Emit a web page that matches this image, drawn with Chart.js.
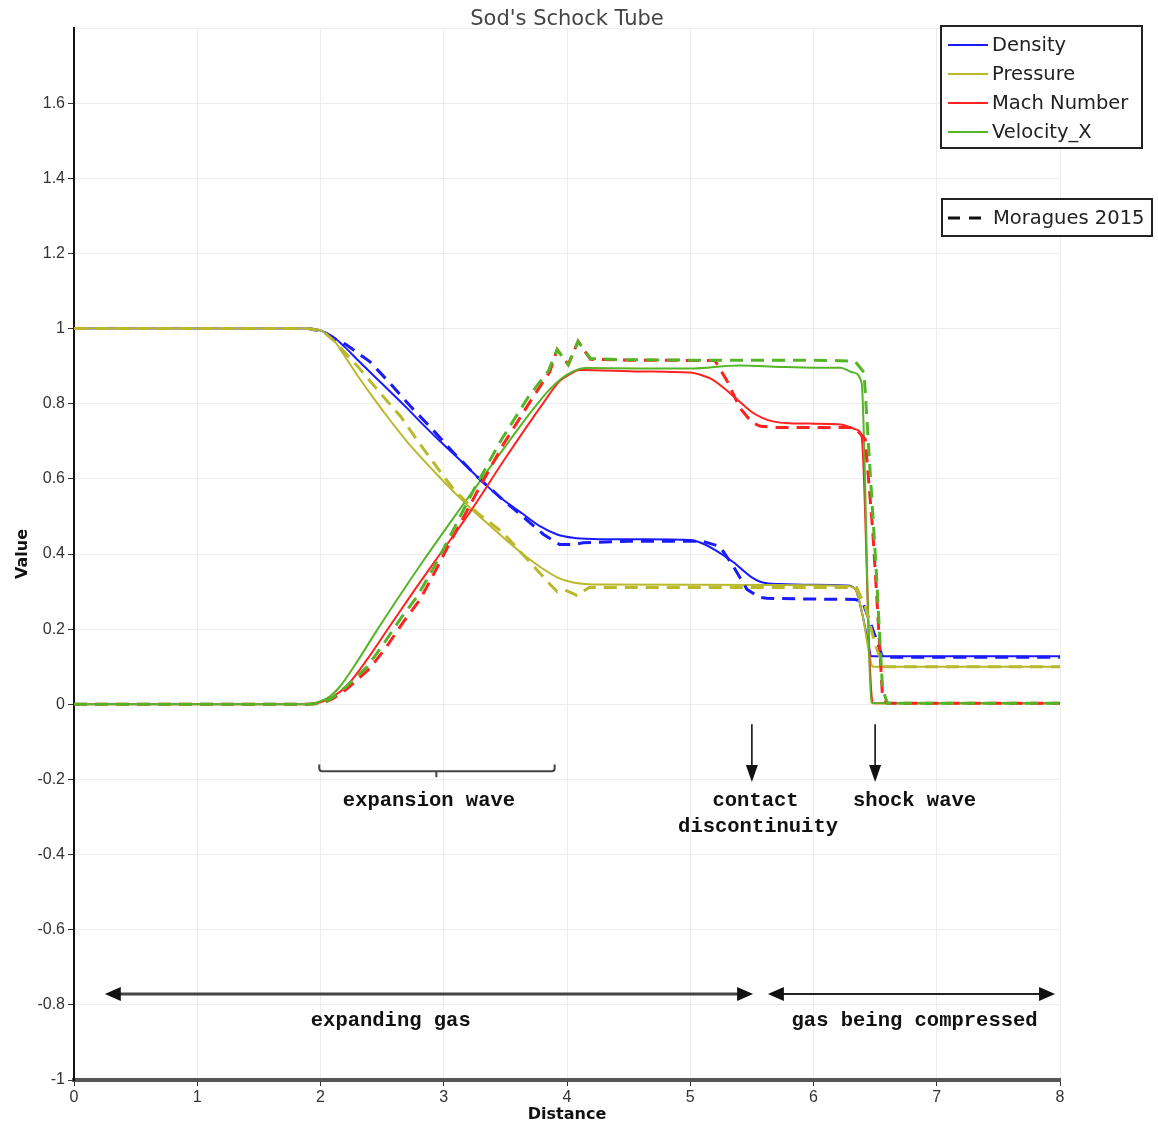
<!DOCTYPE html>
<html>
<head>
<meta charset="utf-8">
<title>Sod's Schock Tube</title>
<script src="https://cdn.jsdelivr.net/npm/chart.js@4.4.1/dist/chart.umd.min.js"></script>
<style>
  html, body { margin: 0; padding: 0; background: #ffffff; }
  #wrap { width: 1158px; height: 1126px; }
</style>
</head>
<body>
<div id="wrap"><canvas id="chart" width="1158" height="1126"></canvas></div>
<script>
// Sod shock tube profiles: present run (solid) and Moragues 2015 reference (dashed)

// --- present run ---
const densityX  = [0, 1.9, 2.0, 2.1, 2.2, 2.3, 2.43, 2.56, 2.7, 2.83, 2.97, 3.11, 3.22, 3.32, 3.48, 3.64, 3.78, 3.92, 4.05, 4.2, 4.6, 5.0, 5.1, 5.22, 5.35, 5.49, 5.59, 5.73, 6.0, 6.27, 6.34, 6.4, 6.44, 6.47, 6.6, 8];
const densityY  = [1, 1, 0.995, 0.979, 0.95, 0.917, 0.875, 0.834, 0.789, 0.745, 0.70, 0.657, 0.622, 0.59, 0.545, 0.507, 0.474, 0.452, 0.443, 0.44, 0.439, 0.437, 0.428, 0.407, 0.378, 0.34, 0.324, 0.32, 0.318, 0.316, 0.306, 0.234, 0.17, 0.128, 0.128, 0.128];

const pressureX = [0, 1.9, 2.0, 2.1, 2.2, 2.3, 2.43, 2.56, 2.7, 2.83, 2.97, 3.11, 3.25, 3.38, 3.51, 3.64, 3.78, 3.92, 4.05, 4.2, 5.0, 6.0, 6.27, 6.34, 6.4, 6.46, 6.48, 8];
const pressureY = [1, 1, 0.995, 0.972, 0.925, 0.875, 0.815, 0.758, 0.70, 0.652, 0.603, 0.556, 0.512, 0.474, 0.436, 0.40, 0.366, 0.338, 0.324, 0.319, 0.318, 0.317, 0.315, 0.306, 0.234, 0.12, 0.1, 0.1];

const machX     = [0, 1.9, 2.0, 2.1, 2.21, 2.38, 2.56, 2.75, 2.94, 3.21, 3.51, 3.81, 3.94, 4.02, 4.1, 4.6, 5.0, 5.1, 5.18, 5.26, 5.35, 5.42, 5.49, 5.58, 5.67, 5.8, 6.0, 6.22, 6.35, 6.39, 6.46, 6.48, 8];
const machY     = [0, 0, 0.005, 0.02, 0.048, 0.12, 0.207, 0.298, 0.386, 0.51, 0.66, 0.803, 0.86, 0.878, 0.89, 0.886, 0.883, 0.875, 0.864, 0.845, 0.82, 0.80, 0.78, 0.763, 0.753, 0.748, 0.747, 0.745, 0.731, 0.713, 0.085, 0.003, 0.003];

const velocityX = [0, 1.9, 2.0, 2.08, 2.16, 2.3, 2.46, 2.65, 2.83, 3.11, 3.43, 3.7, 3.85, 3.95, 4.05, 4.15, 4.6, 5.0, 5.4, 5.73, 6.0, 6.22, 6.32, 6.39, 6.47, 6.5, 8];
const velocityY = [0, 0, 0.008, 0.022, 0.048, 0.115, 0.198, 0.293, 0.38, 0.51, 0.655, 0.775, 0.835, 0.866, 0.886, 0.895, 0.894, 0.894, 0.902, 0.898, 0.896, 0.896, 0.883, 0.856, 0.005, 0.003, 0.003];

// --- Moragues 2015 ---
const refDensityX  = [0, 1.9, 2.02, 2.1, 2.21, 2.4, 2.56, 2.73, 2.91, 3.07, 3.27, 3.46, 3.64, 3.81, 3.94, 4.05, 4.13, 4.5, 5.1, 5.24, 5.35, 5.46, 5.56, 5.62, 6.0, 6.34, 6.4, 6.46, 6.51, 6.56, 6.6, 8];
const refDensityY  = [1, 1, 0.992, 0.975, 0.957, 0.912, 0.856, 0.793, 0.731, 0.673, 0.606, 0.55, 0.50, 0.452, 0.425, 0.425, 0.43, 0.434, 0.434, 0.42, 0.367, 0.306, 0.285, 0.282, 0.28, 0.279, 0.27, 0.218, 0.173, 0.125, 0.125, 0.125];

const refPressureX = [0, 1.9, 2.02, 2.1, 2.3, 2.48, 2.65, 2.78, 2.94, 3.08, 3.27, 3.48, 3.7, 3.86, 3.92, 3.98, 4.08, 4.18, 5.0, 6.0, 6.35, 6.42, 6.5, 6.57, 8];
const refPressureY = [1, 1, 0.993, 0.97, 0.90, 0.83, 0.766, 0.705, 0.633, 0.572, 0.51, 0.457, 0.378, 0.32, 0.30, 0.305, 0.29, 0.311, 0.311, 0.311, 0.311, 0.26, 0.16, 0.1, 0.1];

const refMachX     = [0, 1.9, 2.02, 2.1, 2.21, 2.4, 2.54, 2.67, 2.81, 2.94, 3.05, 3.27, 3.48, 3.7, 3.86, 3.92, 4.01, 4.09, 4.19, 4.5, 5.2, 5.3, 5.4, 5.5, 5.57, 5.7, 6.0, 6.33, 6.38, 6.42, 6.48, 6.52, 6.56, 6.6, 8];
const refMachY     = [0, 0, 0.003, 0.015, 0.04, 0.095, 0.155, 0.218, 0.28, 0.36, 0.43, 0.565, 0.69, 0.805, 0.885, 0.944, 0.904, 0.966, 0.918, 0.916, 0.915, 0.86, 0.79, 0.75, 0.74, 0.737, 0.737, 0.737, 0.72, 0.705, 0.465, 0.25, 0.02, 0.003, 0.003];

const refVelocityX = [0, 1.9, 2.02, 2.1, 2.2, 2.38, 2.52, 2.65, 2.79, 2.92, 3.04, 3.25, 3.46, 3.68, 3.85, 3.92, 4.01, 4.09, 4.19, 4.5, 5.0, 6.0, 6.27, 6.34, 6.41, 6.46, 6.51, 6.56, 6.6, 8];
const refVelocityY = [0, 0, 0.003, 0.018, 0.045, 0.10, 0.165, 0.228, 0.29, 0.365, 0.44, 0.575, 0.70, 0.815, 0.888, 0.944, 0.904, 0.966, 0.92, 0.917, 0.916, 0.916, 0.914, 0.912, 0.883, 0.617, 0.351, 0.04, 0.003, 0.003];

const seriesNames = ['Density', 'Pressure', 'Mach Number', 'Velocity_X'];
const referenceName = 'Moragues 2015';
const chartTitle = "Sod's Schock Tube";

const yTickValues = [-1, -0.8, -0.6, -0.4, -0.2, 0, 0.2, 0.4, 0.6, 0.8, 1, 1.2, 1.4, 1.6];

const COLORS = {
  density:  '#1a1aff',
  pressure: '#b9b92b',
  mach:     '#ff2222',
  velocity: '#55b527'
};

function points(xs, ys) {
  return xs.map((x, i) => ({ x: x, y: ys[i] }));
}

function solid(label, xs, ys, color, order) {
  return {
    label: label, data: points(xs, ys), borderColor: color, backgroundColor: color,
    borderWidth: 2, pointRadius: 0, showLine: true, fill: false,
    cubicInterpolationMode: 'monotone', order: order
  };
}

function dashed(label, xs, ys, color, order) {
  return {
    label: label, data: points(xs, ys), borderColor: color, backgroundColor: color,
    borderWidth: 3, borderDash: [13, 8], pointRadius: 0, showLine: true, fill: false,
    tension: 0, order: order
  };
}

const datasets = [
  solid(seriesNames[0], densityX, densityY, COLORS.density, 8),
  solid(seriesNames[1], pressureX, pressureY, COLORS.pressure, 7),
  solid(seriesNames[2], machX, machY, COLORS.mach, 6),
  solid(seriesNames[3], velocityX, velocityY, COLORS.velocity, 5),
  dashed(seriesNames[0] + ' ' + referenceName, refDensityX, refDensityY, COLORS.density, 4),
  dashed(seriesNames[1] + ' ' + referenceName, refPressureX, refPressureY, COLORS.pressure, 3),
  dashed(seriesNames[2] + ' ' + referenceName, refMachX, refMachY, COLORS.mach, 2),
  dashed(seriesNames[3] + ' ' + referenceName, refVelocityX, refVelocityY, COLORS.velocity, 1)
];

// Annotation anchors in data units (Distance, Value)
const braceFrom = 1.99, braceTo = 3.9, braceTip = 2.94;
const braceTop = -0.16, braceBar = -0.178, braceEnd = -0.194;
const contactAt = 5.5, shockAt = 6.5, arrowStart = -0.053, arrowEnd = -0.207;
const spanY = -0.771;
const expandingSpan = [0.25, 5.51];
const compressedSpan = [5.63, 7.96];
const notes = [
  { text: 'expansion wave', x: 2.88, y: -0.258 },
  { text: 'contact', x: 5.53, y: -0.258 },
  { text: 'discontinuity', x: 5.55, y: -0.327 },
  { text: 'shock wave', x: 6.82, y: -0.258 },
  { text: 'expanding gas', x: 2.57, y: -0.843 },
  { text: 'gas being compressed', x: 6.82, y: -0.843 }
];

function arrowHead(ctx, tipX, tipY, angle, len, half) {
  ctx.save();
  ctx.translate(tipX, tipY);
  ctx.rotate(angle);
  ctx.beginPath();
  ctx.moveTo(0, 0);
  ctx.lineTo(-len, -half);
  ctx.lineTo(-len, half);
  ctx.closePath();
  ctx.fill();
  ctx.restore();
}

const titlePlugin = {
  id: 'plotTitle',
  afterDraw(chart) {
    const ctx = chart.ctx;
    const area = chart.chartArea;
    ctx.save();
    ctx.fillStyle = '#444';
    ctx.font = '21px "DejaVu Sans", sans-serif';
    ctx.textAlign = 'center';
    ctx.textBaseline = 'middle';
    ctx.fillText(chartTitle, (area.left + area.right) / 2, 20);
    ctx.restore();
  }
};

const annotationPlugin = {
  id: 'waveNotes',
  afterDatasetsDraw(chart) {
    const ctx = chart.ctx;
    const xs = chart.scales.x, ys = chart.scales.y;
    const px = v => xs.getPixelForValue(v);
    const py = v => ys.getPixelForValue(v);
    ctx.save();

    // brace under the expansion fan
    ctx.strokeStyle = '#444';
    ctx.lineWidth = 2;
    const xl = px(braceFrom), xr = px(braceTo), xm = px(braceTip);
    const yt = py(braceTop), yb = py(braceBar), ye = py(braceEnd);
    ctx.beginPath();
    ctx.moveTo(xl, yt);
    ctx.lineTo(xl, yb - 3);
    ctx.quadraticCurveTo(xl, yb, xl + 3, yb);
    ctx.lineTo(xr - 3, yb);
    ctx.quadraticCurveTo(xr, yb, xr, yb - 3);
    ctx.lineTo(xr, yt);
    ctx.stroke();
    ctx.beginPath();
    ctx.moveTo(xm, yb);
    ctx.lineTo(xm, ye);
    ctx.stroke();

    // downward pointers at the contact and the shock
    ctx.strokeStyle = '#111';
    ctx.fillStyle = '#111';
    ctx.lineWidth = 1.6;
    [contactAt, shockAt].forEach(v => {
      const x = px(v);
      ctx.beginPath();
      ctx.moveTo(x, py(arrowStart));
      ctx.lineTo(x, py(arrowEnd) - 10);
      ctx.stroke();
      arrowHead(ctx, x, py(arrowEnd), Math.PI / 2, 17, 6);
    });

    // two-headed spans
    const y = py(spanY);
    [[expandingSpan, 3, '#444'], [compressedSpan, 2, '#222']].forEach(([span, w, c]) => {
      const a = px(span[0]), b = px(span[1]);
      ctx.strokeStyle = c;
      ctx.fillStyle = '#111';
      ctx.lineWidth = w;
      ctx.beginPath();
      ctx.moveTo(a + 10, y);
      ctx.lineTo(b - 10, y);
      ctx.stroke();
      arrowHead(ctx, a, y, Math.PI, 16, 7);
      arrowHead(ctx, b, y, 0, 16, 7);
    });

    // labels
    ctx.fillStyle = '#111';
    ctx.font = 'bold 20.5px "Liberation Mono", "DejaVu Sans Mono", monospace';
    ctx.textAlign = 'center';
    ctx.textBaseline = 'middle';
    notes.forEach(n => ctx.fillText(n.text, px(n.x), py(n.y)));
    ctx.restore();
  }
};

const legendPlugin = {
  id: 'boxedLegends',
  afterDraw(chart) {
    const ctx = chart.ctx;
    ctx.save();
    const font = '19.5px "DejaVu Sans", sans-serif';

    // present-run legend
    ctx.fillStyle = '#ffffff';
    ctx.fillRect(941, 26, 201, 122);
    ctx.strokeStyle = '#222';
    ctx.lineWidth = 2;
    ctx.strokeRect(941, 26, 201, 122);
    ctx.font = font;
    ctx.textAlign = 'left';
    ctx.textBaseline = 'middle';
    chart.data.datasets.slice(0, 4).forEach((ds, i) => {
      const y = 45 + i * 29;
      ctx.strokeStyle = ds.borderColor;
      ctx.lineWidth = 2;
      ctx.setLineDash([]);
      ctx.beginPath();
      ctx.moveTo(948, y);
      ctx.lineTo(988, y);
      ctx.stroke();
      ctx.fillStyle = '#222';
      ctx.fillText(ds.label, 992, y + 1);
    });

    // reference legend
    ctx.fillStyle = '#ffffff';
    ctx.fillRect(942, 199, 210, 37);
    ctx.strokeStyle = '#222';
    ctx.lineWidth = 2;
    ctx.strokeRect(942, 199, 210, 37);
    ctx.strokeStyle = '#111';
    ctx.lineWidth = 3;
    ctx.setLineDash([12, 9]);
    ctx.beginPath();
    ctx.moveTo(948, 218);
    ctx.lineTo(990, 218);
    ctx.stroke();
    ctx.setLineDash([]);
    ctx.fillStyle = '#222';
    ctx.fillText(referenceName, 993, 219);
    ctx.restore();
  }
};

new Chart(document.getElementById('chart'), {
  type: 'scatter',
  data: { datasets: datasets },
  plugins: [annotationPlugin, legendPlugin, titlePlugin],
  options: {
    responsive: false,
    animation: false,
    layout: { padding: { top: 28, right: 98, bottom: 0, left: 0 } },
    plugins: {
      legend: { display: false },
      tooltip: { enabled: false },
      title: { display: false }
    },
    scales: {
      x: {
        type: 'linear',
        min: 0, max: 8,
        afterFit(scale) { scale.height = 46; },
        ticks: {
          stepSize: 1,
          color: '#333',
          padding: 2,
          font: { family: '"Liberation Sans Narrow", "Liberation Sans", sans-serif', size: 16 }
        },
        grid: { color: '#ededed', lineWidth: 1, tickColor: '#333', tickLength: 6 },
        border: { color: '#555', width: 4 },
        title: {
          display: true, text: 'Distance', color: '#111',
          font: { family: '"DejaVu Sans", sans-serif', size: 16, weight: 'bold' },
          padding: { top: 0, bottom: 2 }
        }
      },
      y: {
        type: 'linear',
        min: -1, max: 1.8,
        afterFit(scale) { scale.width = 74; },
        afterBuildTicks(scale) {
          scale.ticks = yTickValues.concat([1.8]).map(v => ({ value: v }));
        },
        ticks: {
          color: '#333',
          padding: 3,
          font: { family: '"Liberation Sans Narrow", "Liberation Sans", sans-serif', size: 16 },
          callback: v => (Math.abs(v - 1.8) < 1e-9 ? '' : String(parseFloat(v.toFixed(1))))
        },
        grid: {
          color: '#ededed', lineWidth: 1, tickLength: 6,
          tickColor: c => (c.tick && Math.abs(c.tick.value - 1.8) < 1e-9 ? 'rgba(0,0,0,0)' : '#333')
        },
        border: { color: '#111', width: 2 },
        title: {
          display: true, text: 'Value', color: '#111',
          font: { family: '"DejaVu Sans", sans-serif', size: 16, weight: 'bold' },
          padding: { top: 13, bottom: 0 }
        }
      }
    }
  }
});
</script>
</body>
</html>
